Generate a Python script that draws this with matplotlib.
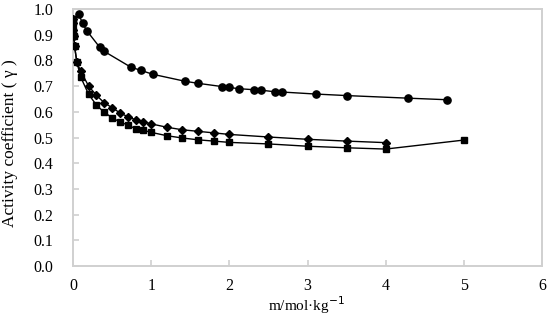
import matplotlib
matplotlib.use("Agg")
import matplotlib.pyplot as plt

# Series 1 (circles)
m_circle = [0.073, 0.124, 0.175, 0.342, 0.40, 0.738, 0.87, 1.02, 1.43, 1.595,
            1.91, 1.99, 2.12, 2.31, 2.41, 2.58, 2.67, 3.11, 3.51, 4.29, 4.78]
g_circle = [0.979, 0.944, 0.916, 0.851, 0.835, 0.774, 0.761, 0.746, 0.719, 0.711,
            0.698, 0.695, 0.690, 0.686, 0.684, 0.678, 0.677, 0.669, 0.663, 0.653, 0.647]

# Series 2 (diamonds)
m_diamond = [0.001, 0.002, 0.005, 0.01, 0.02, 0.05, 0.1, 0.2, 0.3, 0.4, 0.5, 0.6, 0.7,
             0.8, 0.9, 1.0, 1.2, 1.4, 1.6, 1.8, 2.0, 2.5, 3.0, 3.5, 4.0]
g_diamond = [0.963, 0.946, 0.920, 0.894, 0.855, 0.792, 0.757, 0.700, 0.664, 0.635,
             0.616, 0.596, 0.581, 0.569, 0.561, 0.553, 0.540, 0.530, 0.524, 0.518,
             0.512, 0.502, 0.493, 0.486, 0.480]

# Series 3 (squares)
m_square = [0.001, 0.002, 0.005, 0.01, 0.02, 0.05, 0.1, 0.2, 0.3, 0.4, 0.5, 0.6, 0.7,
            0.8, 0.9, 1.0, 1.2, 1.4, 1.6, 1.8, 2.0, 2.5, 3.0, 3.5, 4.0, 5.0]
g_square = [0.963, 0.946, 0.920, 0.894, 0.855, 0.792, 0.734, 0.668, 0.626, 0.598,
            0.577, 0.560, 0.549, 0.534, 0.528, 0.520, 0.507, 0.498, 0.491, 0.486,
            0.481, 0.475, 0.466, 0.460, 0.455, 0.490]

x_ticks = [0, 1, 2, 3, 4, 5, 6]
y_ticks = [0.0, 0.1, 0.2, 0.3, 0.4, 0.5, 0.6, 0.7, 0.8, 0.9, 1.0]

plt.rcParams['font.family'] = ['Liberation Serif', 'DejaVu Serif']

fig = plt.figure(figsize=(5.5, 3.23), dpi=100)
ax = fig.add_axes([73/550, 57/323, (542-73)/550, (266-9)/323])

ax.plot(m_diamond, g_diamond, color='black', lw=1.0, marker='D', ms=3.8, zorder=3)
ax.plot(m_square, g_square, color='black', lw=1.0, marker='s', ms=5, zorder=4)
ax.plot(m_circle, g_circle, color='black', lw=1.0, marker='o', ms=5.2, zorder=3)

ax.set_xlim(0, 6)
ax.set_ylim(0, 1.0)
ax.set_xticks(x_ticks)
ax.set_yticks(y_ticks)
ax.set_xticklabels([str(v) for v in x_ticks])
ax.set_yticklabels([f"{v:.1f}" for v in y_ticks])

axis_col = '#d0d0d0'
for s in ax.spines.values():
    s.set_color(axis_col)
    s.set_linewidth(1.4)
ax.tick_params(axis='both', direction='in', color=axis_col, width=1.2, length=4,
               labelsize=11.5, labelcolor='black')
ax.tick_params(axis='y', pad=14)
ax.tick_params(axis='x', pad=8.5)

ax.set_xlabel('m/mol·kg$^{-1}$', fontsize=11)
ax.xaxis.set_label_coords(0.4975, -0.11)
ax.set_ylabel('Activity coefficient ( γ )', fontsize=12.5)
ax.yaxis.set_label_coords(-0.117, 0.48)

fig.savefig('out.png', dpi=100)
